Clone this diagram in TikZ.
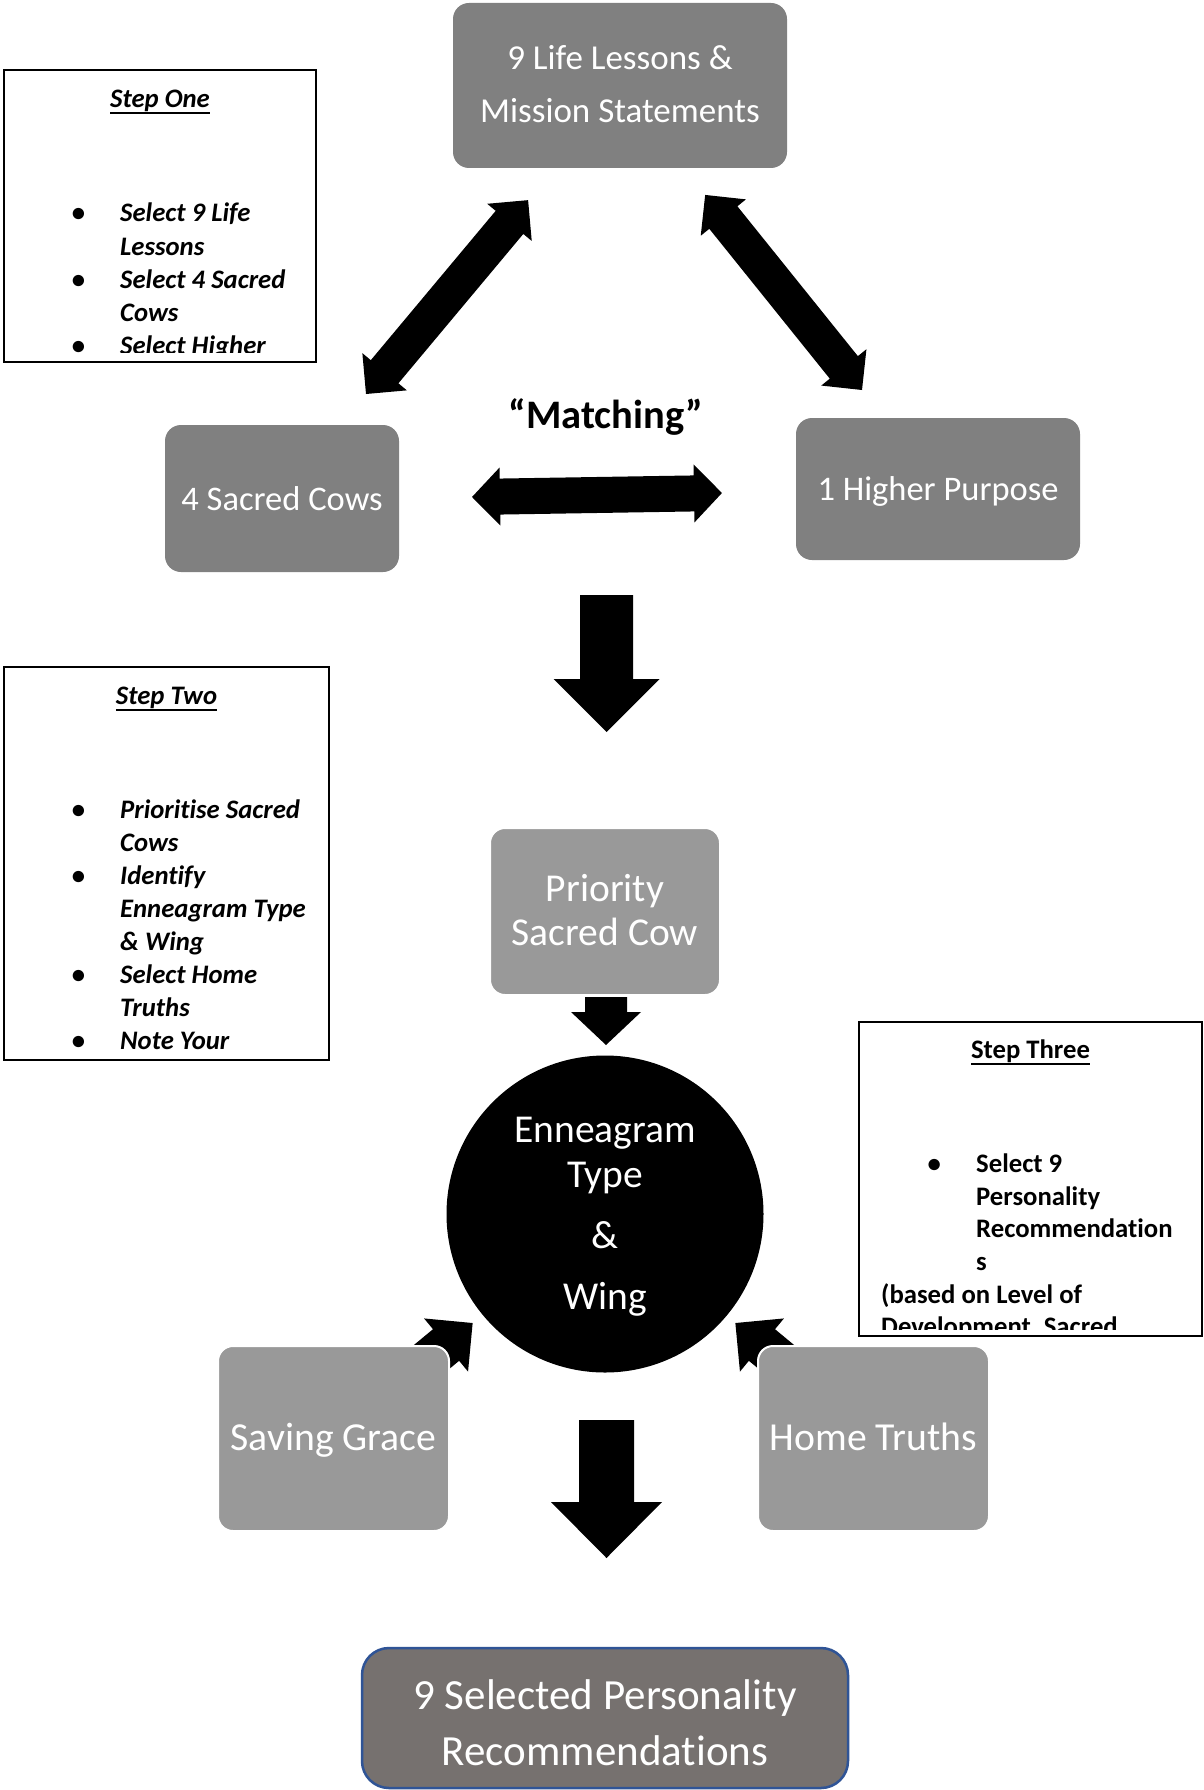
\documentclass[tikz,border=0pt]{standalone}
\usepackage{fontspec}
\setmainfont{Carlito}[Ligatures=CommonOff]
\usetikzlibrary{calc}

\definecolor{boxdark}{RGB}{128,128,128}
\definecolor{boxlight}{RGB}{153,153,153}
\definecolor{boxfinal}{RGB}{118,113,111}
\definecolor{edgeblue}{RGB}{47,84,150}

% centred lines whose baseline is that of the first line
\newcommand\stack[1]{\begin{tabular}[t]{@{}c@{}}#1\end{tabular}}
% bullet column of the step lists
\newcommand\bul{\makebox[48.5pt][l]{\textbullet}}
% heading underline
\newcommand\headul[1]{\setbox0=\hbox{#1}\rlap{\rule[-6.5pt]{\wd0}{1.6pt}}\box0}
\newcommand\stepfont{\fontsize{26.7pt}{33.1pt}\selectfont\bfseries}
\newcommand\stepfontb{\fontsize{26.7pt}{32.6pt}\selectfont\bfseries}

\tikzset{
  % double-headed block arrow: length / shaft half width / head half width / head length
  pics/twohead/.style args={#1/#2/#3/#4}{code={%
    \fill (0,0) -- (#4,#3) -- (#4,#2) -- ({#1-#4},#2) -- ({#1-#4},#3) -- (#1,0)
      -- ({#1-#4},-#3) -- ({#1-#4},-#2) -- (#4,-#2) -- (#4,-#3) -- cycle;}},
  % single-headed block arrow: length / shaft half width / head half width / head length
  pics/onehead/.style args={#1/#2/#3/#4}{code={%
    \fill (0,#2) -- ({#1-#4},#2) -- ({#1-#4},#3) -- (#1,0)
      -- ({#1-#4},-#3) -- ({#1-#4},-#2) -- (0,-#2) -- cycle;}},
}

\begin{document}
\begin{tikzpicture}[x=1pt, y=-1pt,
  darkbox/.style={fill=boxdark, rounded corners=16pt, inner sep=0pt},
  lightbox/.style={fill=boxlight, draw=white, line width=2pt, rounded corners=15pt, inner sep=0pt},
  finalbox/.style={fill=boxfinal, draw=edgeblue, line width=2.5pt, rounded corners=27pt, inner sep=0pt},
  stepbox/.style={draw=black, line width=1.3pt, inner sep=0pt},
  boxtext/.style={text=white, inner sep=0pt, anchor=base},
  steptext/.style={inner sep=0pt, anchor=base west, font=\stepfont},
  stephead/.style={inner sep=0pt, anchor=base, font=\stepfont},
]
\useasboundingbox (0,0) rectangle (1203,1790);
\fill[white] (0,0) rectangle (1203,1790);

% ---------- step panels ----------
\node[stepbox, minimum width=312pt, minimum height=292pt] (stepone) at (160,216) {};
\begin{scope}
  \clip (6,72) rectangle (314,352);
  \node[stephead, font=\stepfont\itshape] (stepone-head) at (160,107.5) {\headul{Step One}};
  \node[steptext, font=\stepfont\itshape] (stepone-list) at (71.5,222) {%
    \begin{tabular}[t]{@{}l@{}l@{}}
      \bul & Select 9 Life\\
           & Lessons\\
      \bul & Select 4 Sacred\\
           & Cows\\
      \bul & Select Higher\\
           & Purpose
    \end{tabular}};
\end{scope}

\node[stepbox, minimum width=325pt, minimum height=393pt] (steptwo) at (166.5,863.5) {};
\begin{scope}
  \clip (6,669) rectangle (327,1057);
  \node[stephead, font=\stepfont\itshape] (steptwo-head) at (166.5,704) {\headul{Step Two}};
  \node[steptext, font=\stepfont\itshape] (steptwo-list) at (71.5,818) {%
    \begin{tabular}[t]{@{}l@{}l@{}}
      \bul & Prioritise Sacred\\
           & Cows\\
      \bul & Identify\\
           & Enneagram Type\\
           & \& Wing\\
      \bul & Select Home\\
           & Truths\\
      \bul & Note Your\\
           & Saving Grace
    \end{tabular}};
\end{scope}

\node[stepbox, minimum width=343pt, minimum height=314pt] (stepthree) at (1030.5,1179) {};
\begin{scope}
  \clip (861,1024) rectangle (1200,1329);
  \node[stephead, font=\stepfontb] (stepthree-head) at (1030.5,1058) {\headul{Step Three}};
  \node[steptext, font=\stepfontb] (stepthree-list) at (927.5,1172.5) {%
    \begin{tabular}[t]{@{}l@{}l@{}}
      \bul & Select 9\\
           & Personality\\
           & Recommendation\\
           & s
    \end{tabular}};
  \node[steptext, font=\stepfontb] (stepthree-note) at (881,1303) {%
    \begin{tabular}[t]{@{}l@{}}
      (based on Level of\\
      Development, Sacred
    \end{tabular}};
\end{scope}

% ---------- block arrows ----------
\coordinate (lowleft) at (366,394);
\coordinate (lowright) at (862,390);
\coordinate (matchleft) at (472,497);
\coordinate (downone) at (606.5,595);
\coordinate (downsmall) at (606,997);
\coordinate (gracetail) at (411,1374);
\coordinate (truthtail) at (797,1374);
\coordinate (downtwo) at (606.5,1420);

\pic[rotate=50.1] at (lowleft) {twohead=252.7/18/29/29};
\pic[rotate=128.8] at (lowright) {twohead=250.3/18/29/29};
\pic[rotate=0.92] at (matchleft) {twohead=250/18/29/28};
\pic[rotate=-90] at (downone) {onehead=137/26.5/53/53};
\pic[rotate=-90] at (downsmall) {onehead=48/21/35/33};
\pic[rotate=39.6] at (gracetail) {onehead=80/20.5/34.5/34.5};
\pic[rotate=140.4] at (truthtail) {onehead=80/20.5/34.5/34.5};
\pic[rotate=-90] at (downtwo) {onehead=138/27.5/55.5/56};

% ---------- boxes ----------
\node[darkbox, minimum width=334pt, minimum height=165pt] (lessons) at (620,85.5) {};
\node[boxtext, font=\fontsize{35pt}{53pt}\selectfont] (lessons-text) at (620,70)
  {\stack{9 Life Lessons \&\\Mission Statements}};

\node[darkbox, minimum width=234pt, minimum height=147pt] (cows) at (282,498.5) {};
\node[boxtext, font=\fontsize{34.5pt}{40pt}\selectfont] (cows-text) at (282,510) {4 Sacred Cows};

\node[darkbox, minimum width=284pt, minimum height=142pt] (purpose) at (938,489) {};
\node[boxtext, font=\fontsize{34.5pt}{40pt}\selectfont] (purpose-text) at (938,500) {1 Higher Purpose};

\node[inner sep=0pt, anchor=base, font=\fontsize{40.5pt}{45pt}\selectfont\bfseries] (matching) at (606,428) {“Matching”};

\node[lightbox, minimum width=230pt, minimum height=167pt] (priority) at (605,911.5) {};
\node[boxtext, font=\fontsize{39.5pt}{44pt}\selectfont] (priority-text) at (605,901)
  {\stack{Priority\\Sacred Cow}};

\node[circle, fill=black, minimum size=317pt, inner sep=0pt] (enneagram) at (605,1214) {};
\node[boxtext, font=\fontsize{39.5pt}{45pt}\selectfont] (enneagram-text) at (605,1142)
  {\stack{Enneagram\\Type\\[16pt]\&\\[16.5pt]Wing}};

\node[lightbox, minimum width=231pt, minimum height=185pt] (grace) at (333.5,1438.5) {};
\node[boxtext, font=\fontsize{39.7pt}{45pt}\selectfont] (grace-text) at (333.5,1450.5) {Saving Grace};

\node[lightbox, minimum width=231pt, minimum height=185pt] (truths) at (873.5,1438.5) {};
\node[boxtext, font=\fontsize{39.7pt}{45pt}\selectfont] (truths-text) at (873.5,1450.5) {Home Truths};

\node[finalbox, minimum width=486pt, minimum height=140pt] (final) at (605,1718) {};
\node[boxtext, font=\fontsize{43pt}{56pt}\selectfont] (final-text) at (605,1709)
  {\stack{9 Selected Personality\\Recommendations}};
\end{tikzpicture}
\end{document}
